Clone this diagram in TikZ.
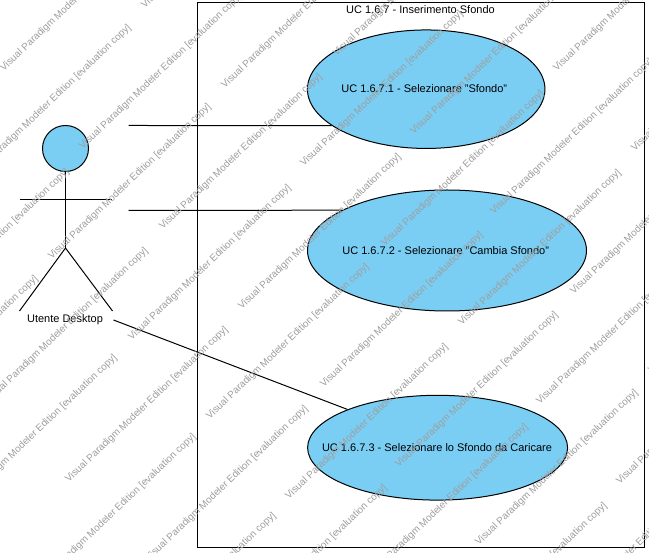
\documentclass[tikz,border=0pt]{standalone}
\usepackage{fontspec}
\setmainfont{Liberation Sans}
\usetikzlibrary{shapes.geometric}
\definecolor{ucblue}{RGB}{122,206,244}
\definecolor{wmgray}{RGB}{158,158,158}
\tikzset{
  ucase/.style={ellipse,draw=black,fill=ucblue,line width=1pt,inner sep=0pt},
  txt/.style={inner sep=0pt,font=\fontsize{11}{13}\selectfont},
  wire/.style={draw=black,line width=1pt},
  wmark/.style={text=wmgray,inner sep=0pt,anchor=west,rotate=43.7,font=\fontsize{9.9}{12}\selectfont}
}
\begin{document}
\begin{tikzpicture}[x=1pt,y=-1pt]
\useasboundingbox (0,0) rectangle (649,553);
\clip (0,0) rectangle (649,553);
\fill[white] (0,0) rectangle (649,553);
% system boundary
\node[draw=black,line width=1pt,fill=white,inner sep=0pt,minimum width=447pt,minimum height=545.5pt] (sys) at (421,275.25) {};
\node[txt] (title) at (420.5,10) {UC 1.6.7 - Inserimento Sfondo};
% free ends of the connectors
\coordinate (a1) at (128.5,125.5);
\coordinate (a2) at (128.5,210.5);
\coordinate (a3) at (113.5,320);
% use cases
\node[ucase,minimum width=237.5pt,minimum height=118.5pt] (e1) at (426.2,89.2) {};
\node[ucase,minimum width=279pt,minimum height=121pt] (e2) at (447,250.5) {};
\node[ucase,minimum width=260pt,minimum height=104.8pt] (e3) at (437.6,447.7) {};
\node[txt] (t1) at (424.3,89) {UC 1.6.7.1 - Selezionare "Sfondo"};
\node[txt] (t2) at (445.7,250.5) {UC 1.6.7.2 - Selezionare "Cambia Sfondo"};
\node[txt] (t3) at (437,448) {UC 1.6.7.3 - Selezionare lo Sfondo da Caricare};
% connectors
\draw[wire] (a1) -- (e1.201.4);
\draw[wire] (a2) -- (e2.159.1);
\draw[wire] (a3) -- (e3.157.8);
% actor
\node[circle,draw=black,fill=ucblue,line width=1pt,inner sep=0pt,minimum size=46pt] (head) at (65.5,148.5) {};
\coordinate (hip) at (65.5,248);
\coordinate (armL) at (19.5,199.5);
\coordinate (armR) at (111.5,199.5);
\coordinate (legL) at (19.5,311);
\coordinate (legR) at (112.5,311);
\draw[wire] (head) -- (hip);
\draw[wire] (armL) -- (armR);
\draw[wire] (legL) -- (hip) -- (legR);
\node[txt] (actor) at (65,319.5) {Utente Desktop};
% watermark
\foreach \px/\py [count=\i] in {
  2/70,81/148,161/228,240/308,322/386,397/466,477/544,556/623,
  143/7,223/87,302/165,383/245,460/324,538/403,618/483,
  335/55,412/133,492/213,572/293,650/372,
  555/70,633/150,
  -30/179,50/258,130/339,208/418,287/498,367/578,446/657,
  -92/323,-13/402,67/481,147/560,226/639,305/718,
  -123/430,-44/509,35/588,115/667}
{
  \node[wmark] (w\i) at (\px,\py) {Visual Paradigm Modeler Edition [evaluation copy]};
}
\end{tikzpicture}
\end{document}
